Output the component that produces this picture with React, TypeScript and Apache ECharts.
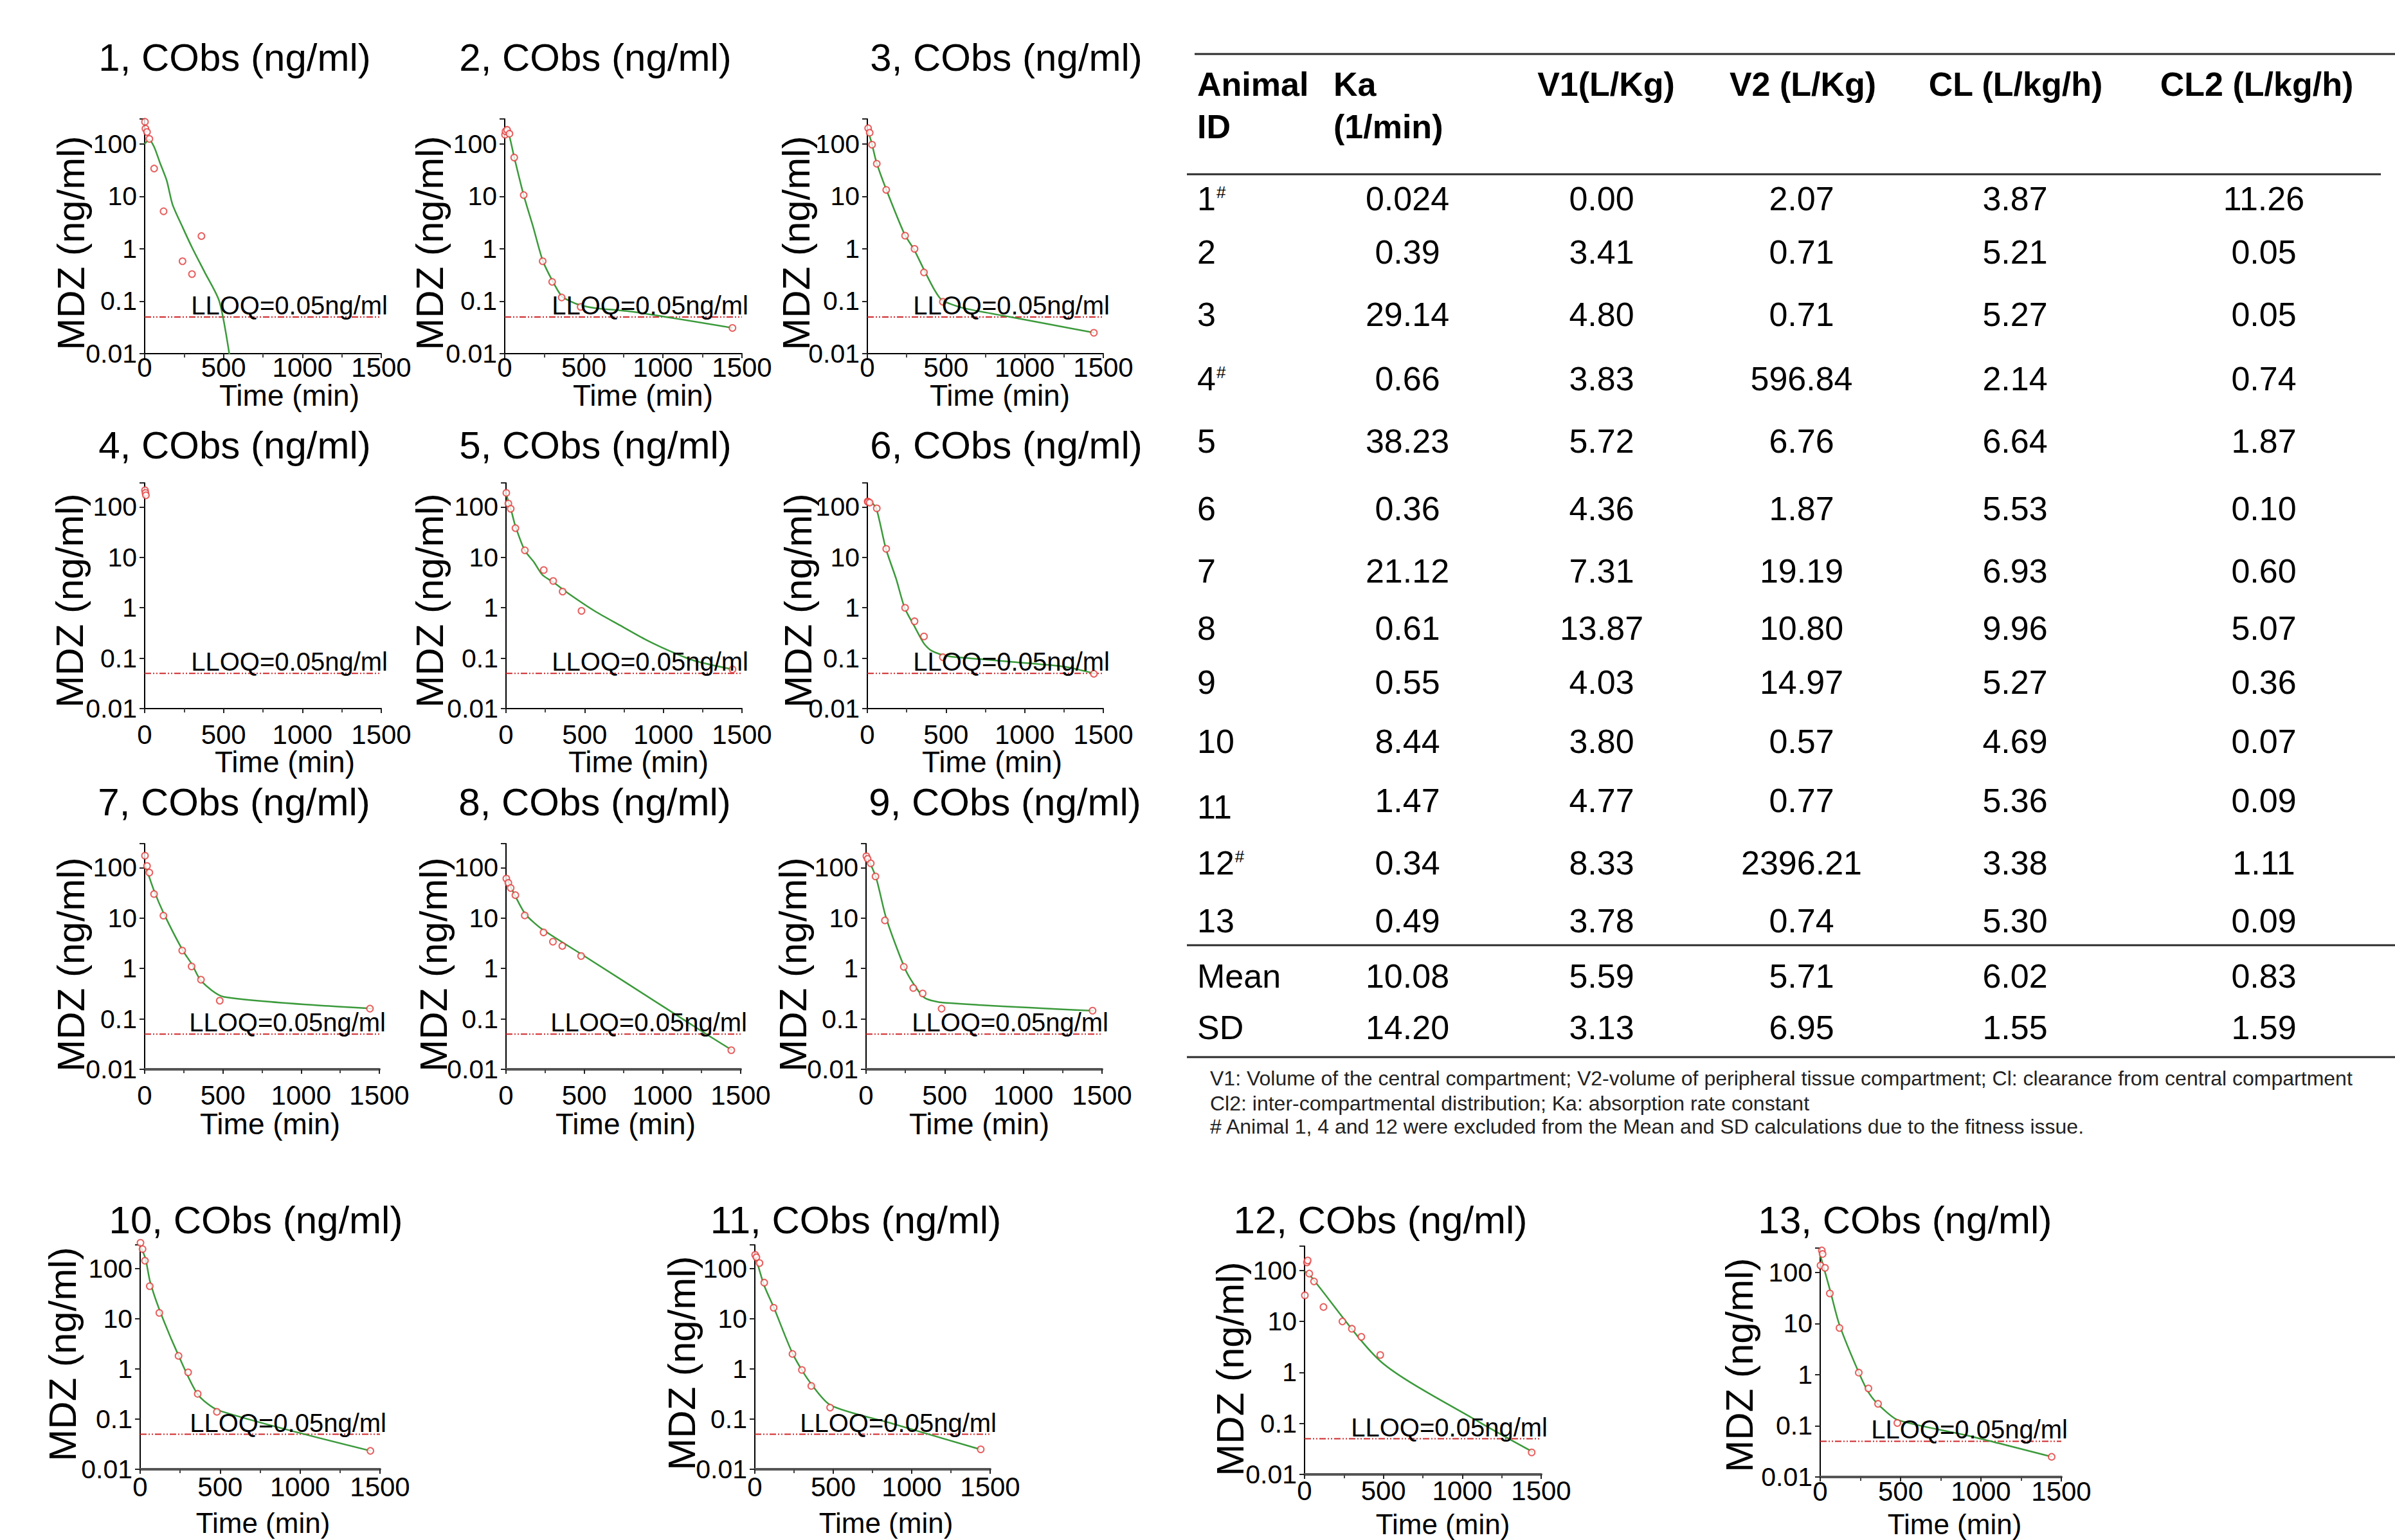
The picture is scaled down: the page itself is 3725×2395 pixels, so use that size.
import React, { useEffect, useRef } from 'react';
import * as echarts from 'echarts';

const W = 3725;
const H = 2395;
const FONT = '"Liberation Sans", Arial, Helvetica, sans-serif';

// ---------- texts ----------
const PANEL_IDS = ['1', '2', '3', '4', '5', '6', '7', '8', '9', '10', '11', '12', '13'];
const TITLE_SUFFIX = ', CObs (ng/ml)';
const Y_NAME = 'MDZ (ng/ml)';
const X_NAME = 'Time (min)';
const LLOQ_VALUE = 0.05;
const LLOQ_TEXT = 'LLOQ=0.05ng/ml';
const X_MIN = 0;
const X_MAX = 1500;
const X_INTERVAL = 500;
const Y_MIN = 0.01;
const Y_MAX = 300;
const Y_TICK_LABELS = ['0.01', '0.1', '1', '10', '100'];

// ---------- observed (red circles) and fitted (green) data: [time (min), MDZ (ng/ml)] ----------
const obs1 = [[2, 265], [5, 196], [15, 169], [30, 125], [60, 34], [120, 5.2], [240, 0.58], [300, 0.33], [360, 1.75]];
const fit1 = [[0, 100], [28, 121], [60, 88], [98, 43], [140, 20], [176, 7.1], [240, 2.6], [301, 1.05], [380, 0.36], [473, 0.1], [540, 0.0085]];

const obs2 = [[2, 150], [5, 175], [15, 186], [30, 157], [60, 55], [120, 10.6], [240, 0.58], [300, 0.234], [360, 0.118], [480, 0.078], [1440, 0.031]];
const fit2 = [[0, 175], [15, 178], [30, 140], [60, 56], [120, 10.5], [180, 2.6], [240, 0.6], [300, 0.25], [360, 0.125], [417, 0.099], [484, 0.083], [573, 0.074], [807, 0.063], [1440, 0.031]];

const obs3 = [[5, 200], [15, 164], [30, 97], [60, 42], [120, 13.3], [240, 1.78], [300, 1.0], [360, 0.355], [480, 0.098], [1440, 0.025]];
const fit3 = [[2, 188], [27, 106], [58, 44.7], [118, 14.1], [237, 1.88], [297, 0.97], [360, 0.4], [425, 0.168], [473, 0.106], [603, 0.075], [910, 0.05], [1443, 0.025]];

const obs4 = [[2, 215], [5, 190], [8, 170]];
const fit4: number[][] = [];

const obs5 = [[2, 190], [15, 117], [30, 92], [60, 38], [120, 13.8], [240, 5.6], [300, 3.4], [360, 2.1], [480, 0.87], [1440, 0.06]];
const fit5 = [[2, 180], [16, 124], [33, 85], [59, 42.5], [119, 13.8], [177, 8.1], [231, 4.5], [301, 3.2], [410, 1.8], [567, 0.85], [724, 0.45], [881, 0.24], [1038, 0.14], [1194, 0.09], [1440, 0.06]];

const obs6 = [[2, 129], [5, 125], [15, 122], [60, 94], [120, 14.8], [240, 1.0], [300, 0.54], [360, 0.27], [480, 0.105], [1440, 0.049]];
const fit6 = [[2, 143], [21, 129], [57, 94], [118, 14.8], [183, 3.75], [237, 1.0], [299, 0.43], [360, 0.195], [409, 0.14], [506, 0.11], [764, 0.093], [926, 0.084], [1249, 0.068], [1440, 0.05]];

const obs7 = [[2, 173], [15, 108], [30, 80], [60, 30], [120, 11.2], [240, 2.27], [300, 1.1], [360, 0.6], [480, 0.23], [1440, 0.16]];
const fit7 = [[2, 118], [60, 35], [124, 12], [243, 2.3], [303, 1.2], [362, 0.56], [505, 0.275], [1454, 0.16]];

const obs8 = [[2, 61], [15, 50], [30, 39.5], [60, 28.5], [120, 11.3], [240, 5.2], [300, 3.4], [360, 2.8], [480, 1.77], [1440, 0.024]];
const fit8 = [[5, 61], [60, 27], [124, 12], [225, 6.2], [500, 1.77], [1000, 0.18], [1298, 0.046], [1445, 0.024]];

const obs9 = [[2, 169], [10, 150], [30, 122], [60, 67], [120, 9.0], [240, 1.08], [300, 0.41], [360, 0.32], [480, 0.16], [1440, 0.146]];
const fit9 = [[9, 160], [64, 63], [128, 10], [247, 1.0], [315, 0.43], [374, 0.26], [489, 0.21], [1447, 0.145]];

const obs10 = [[2, 330], [15, 247], [30, 145], [60, 45], [120, 13.2], [240, 1.83], [300, 0.86], [360, 0.32], [480, 0.14], [1440, 0.0233]];
const fit10 = [[0, 290], [33, 161], [62, 55.6], [125, 14], [241, 1.83], [361, 0.31], [490, 0.15], [1442, 0.0233]];

const obs11 = [[2, 190], [10, 170], [30, 130], [60, 53], [120, 16.7], [240, 2.0], [300, 0.96], [360, 0.46], [480, 0.17], [1440, 0.025]];
const fit11 = [[4, 180], [59, 47], [123, 16.3], [242, 2.0], [347, 0.57], [483, 0.19], [856, 0.085], [1436, 0.025]];

const obs12 = [[2, 32.6], [15, 144], [20, 157], [30, 87], [60, 61], [120, 19.2], [240, 10], [300, 7.2], [360, 5.0], [480, 2.2], [1440, 0.027]];
const fit12 = [[0, 95], [27, 85.5], [487, 1.6], [1099, 0.11], [1449, 0.0273]];

const obs13 = [[2, 137], [10, 270], [15, 230], [30, 123], [60, 39], [120, 8.2], [240, 1.1], [300, 0.54], [360, 0.27], [480, 0.114], [1440, 0.0248]];
const fit13 = [[0, 219], [61, 45.6], [119, 9.6], [242, 1.07], [307, 0.42], [376, 0.236], [483, 0.13], [932, 0.063], [1442, 0.0248]];

const OBS = [obs1, obs2, obs3, obs4, obs5, obs6, obs7, obs8, obs9, obs10, obs11, obs12, obs13];
const FIT = [fit1, fit2, fit3, fit4, fit5, fit6, fit7, fit8, fit9, fit10, fit11, fit12, fit13];

// ---------- table ----------
const HEAD_1 = ['Animal', 'Ka', 'V1(L/Kg)', 'V2 (L/Kg)', 'CL (L/kg/h)', 'CL2 (L/kg/h)'];
const HEAD_2 = ['ID', '(1/min)'];
const ANIMAL_IDS = ['1', '2', '3', '4', '5', '6', '7', '8', '9', '10', '11', '12', '13'];
const EXCLUDED_IDS = ['1', '4', '12'];
const KA = ['0.024', '0.39', '29.14', '0.66', '38.23', '0.36', '21.12', '0.61', '0.55', '8.44', '1.47', '0.34', '0.49'];
const V1 = ['0.00', '3.41', '4.80', '3.83', '5.72', '4.36', '7.31', '13.87', '4.03', '3.80', '4.77', '8.33', '3.78'];
const V2 = ['2.07', '0.71', '0.71', '596.84', '6.76', '1.87', '19.19', '10.80', '14.97', '0.57', '0.77', '2396.21', '0.74'];
const CL = ['3.87', '5.21', '5.27', '2.14', '6.64', '5.53', '6.93', '9.96', '5.27', '4.69', '5.36', '3.38', '5.30'];
const CL2 = ['11.26', '0.05', '0.05', '0.74', '1.87', '0.10', '0.60', '5.07', '0.36', '0.07', '0.09', '1.11', '0.09'];
const MEAN_LABEL = 'Mean';
const SD_LABEL = 'SD';
const MEAN = ['10.08', '5.59', '5.71', '6.02', '0.83'];
const SD = ['14.20', '3.13', '6.95', '1.55', '1.59'];
const FOOTNOTES = [
  'V1: Volume of the central compartment; V2-volume of peripheral tissue compartment; Cl: clearance from central compartment',
  'Cl2: inter-compartmental distribution; Ka: absorption rate constant',
  '# Animal 1, 4 and 12 were excluded from the Mean and SD calculations due to the fitness issue.',
];

// ---------- layout (pixel positions only) ----------
const LAYOUT = [
  { l: 225, r: 593, t: 185, b: 550, title: [365, 89], yName: [110, 378], xName: [450, 615], xm: 0 },
  { l: 785, r: 1154, t: 185, b: 550, title: [926, 89], yName: [668, 378], xName: [1000, 615], xm: 0 },
  { l: 1349, r: 1716, t: 185, b: 550, title: [1565, 89], yName: [1238, 378], xName: [1555, 615], xm: 0 },
  { l: 225, r: 593, t: 751, b: 1102, title: [365, 692], yName: [108, 934], xName: [443, 1185], xm: 19 },
  { l: 787, r: 1154, t: 751, b: 1102, title: [926, 692], yName: [668, 934], xName: [993, 1185], xm: 19 },
  { l: 1349, r: 1716, t: 751, b: 1102, title: [1565, 692], yName: [1241, 934], xName: [1543, 1185], xm: 19 },
  { l: 225, r: 590, t: 1312, b: 1663, title: [364, 1247], yName: [110, 1500], xName: [420, 1748], xm: 19 },
  { l: 787, r: 1152, t: 1312, b: 1663, title: [925, 1247], yName: [674, 1500], xName: [973, 1748], xm: 19 },
  { l: 1347, r: 1714, t: 1312, b: 1663, title: [1563, 1247], yName: [1233, 1500], xName: [1523, 1748], xm: 19 },
  { l: 218, r: 591, t: 1936, b: 2285, title: [398, 1897], yName: [97, 2106], xName: [409, 2368], xm: 6 },
  { l: 1174, r: 1540, t: 1936, b: 2285, title: [1331, 1897], yName: [1060, 2120], xName: [1378, 2368], xm: 6 },
  { l: 2029, r: 2397, t: 1938, b: 2293, title: [2147, 1897], yName: [1913, 2129], xName: [2244, 2370], xm: 4 },
  { l: 2831, r: 3206, t: 1941, b: 2297, title: [2963, 1897], yName: [2705, 2123], xName: [3040, 2370], xm: 1 },
];

const TABLE_POS = {
  idLeft: 1862,
  kaHeadLeft: 2074,
  headCenters: [2498, 2804, 3135, 3510],
  colCenters: [2189, 2491, 2802, 3134, 3521],
  head1Y: 131,
  head2Y: 197,
  rowY: [309, 392, 489, 589, 686, 791, 888, 977, 1061, 1153, 1245, 1342, 1432],
  meanY: 1518,
  sdY: 1598,
  rules: [
    [1858, 84, 3725],
    [1846, 271, 3703],
    [1846, 1470, 3725],
    [1846, 1644, 3725],
  ],
  footX: 1882,
  footY: [1677, 1716, 1752],
};

const GREEN = '#3b9a3b';
const RED = '#e23a3a';
const LLOQ_RED = '#d0282b';

function yLabel(v: number) {
  const lg = Math.log10(v);
  const e = Math.round(lg);
  if (Math.abs(lg - e) > 1e-6 || e < -2 || e > 2) return '';
  return Y_TICK_LABELS[e + 2];
}

function xLabel(v: number) {
  return String(Math.round(v));
}

function buildOption() {
  const grid: any[] = [];
  const xAxis: any[] = [];
  const yAxis: any[] = [];
  const series: any[] = [];
  LAYOUT.forEach((p, i) => {
    grid.push({ left: p.l, top: p.t, width: p.r - p.l, height: p.b - p.t, containLabel: false });
    const thick = i >= 6;
    xAxis.push({
      gridIndex: i,
      type: 'value',
      min: X_MIN,
      max: X_MAX,
      interval: X_INTERVAL,
      axisLine: { show: true, onZero: false, lineStyle: { color: thick ? '#555' : '#000', width: thick ? 4 : 2 } },
      axisTick: { show: true, length: 7, lineStyle: { color: '#222', width: 2 } },
      minorTick: { show: true, splitNumber: 2, length: 6, lineStyle: { color: '#444', width: 2 } },
      splitLine: { show: false },
      minorSplitLine: { show: false },
      axisLabel: { fontSize: 42, color: '#000', fontFamily: FONT, margin: p.xm, showMinLabel: true, showMaxLabel: true, formatter: xLabel },
    });
    yAxis.push({
      gridIndex: i,
      type: 'log',
      logBase: 10,
      min: Y_MIN,
      max: Y_MAX,
      axisLine: { show: true, lineStyle: { color: '#000', width: 2 } },
      axisTick: { show: true, length: 8, lineStyle: { color: '#222', width: 2 } },
      splitLine: { show: false },
      axisLabel: { fontSize: 41, color: '#000', fontFamily: FONT, margin: 12, formatter: yLabel },
    });
    series.push({
      type: 'line',
      xAxisIndex: i,
      yAxisIndex: i,
      data: [[X_MIN, LLOQ_VALUE], [X_MAX, LLOQ_VALUE]],
      symbol: 'none',
      silent: true,
      lineStyle: { color: LLOQ_RED, width: 2, type: [10, 3, 2, 3, 2, 3] },
      z: 1,
    });
    if (FIT[i].length) {
      series.push({
        type: 'line',
        xAxisIndex: i,
        yAxisIndex: i,
        data: FIT[i],
        symbol: 'none',
        smooth: 0.25,
        clip: true,
        lineStyle: { color: GREEN, width: 2.5 },
        z: 2,
      });
    }
    series.push({
      type: 'scatter',
      xAxisIndex: i,
      yAxisIndex: i,
      data: OBS[i],
      symbol: 'emptyCircle',
      symbolSize: 10,
      clip: false,
      itemStyle: { color: RED, borderColor: RED, borderWidth: 2 },
      z: 3,
    });
  });
  return {
    animation: false,
    backgroundColor: '#ffffff',
    textStyle: { fontFamily: FONT },
    grid,
    xAxis,
    yAxis,
    series,
  };
}

function text(x: number, y: number, t: string, size: number, o: any = {}) {
  return {
    type: 'text',
    x,
    y,
    rotation: o.rot || 0,
    silent: true,
    z: 10,
    style: {
      text: t,
      fontSize: size,
      fontFamily: FONT,
      fontWeight: o.weight || 'normal',
      fill: o.fill || '#000',
      align: o.align || 'center',
      verticalAlign: o.va || 'middle',
    },
  };
}

function buildGraphics(chart: any) {
  const g: any[] = [];
  LAYOUT.forEach((p, i) => {
    g.push(text(p.title[0], p.title[1], PANEL_IDS[i] + TITLE_SUFFIX, 60));
    g.push(text(p.yName[0], p.yName[1], Y_NAME, 60, { rot: Math.PI / 2 }));
    g.push(text(p.xName[0], p.xName[1], X_NAME, i >= 9 ? 44 : 46));
    const px = chart.convertToPixel({ xAxisIndex: i, yAxisIndex: i }, [X_MAX, LLOQ_VALUE]);
    g.push(text(px[0] + 10, px[1] + 2, LLOQ_TEXT, 40, { align: 'right', va: 'bottom' }));
  });

  // table rules
  TABLE_POS.rules.forEach(([x1, y, x2]) => {
    g.push({ type: 'rect', silent: true, shape: { x: x1, y: y - 1.5, width: x2 - x1, height: 3 }, style: { fill: '#2b2b2b' } });
  });
  // header
  g.push(text(TABLE_POS.idLeft, TABLE_POS.head1Y, HEAD_1[0], 52, { align: 'left', weight: 'bold' }));
  g.push(text(TABLE_POS.kaHeadLeft, TABLE_POS.head1Y, HEAD_1[1], 52, { align: 'left', weight: 'bold' }));
  for (let c = 0; c < 4; c++) {
    g.push(text(TABLE_POS.headCenters[c], TABLE_POS.head1Y, HEAD_1[c + 2], 52, { weight: 'bold' }));
  }
  g.push(text(TABLE_POS.idLeft, TABLE_POS.head2Y, HEAD_2[0], 52, { align: 'left', weight: 'bold' }));
  g.push(text(TABLE_POS.kaHeadLeft, TABLE_POS.head2Y, HEAD_2[1], 52, { align: 'left', weight: 'bold' }));
  // body
  const cols = [KA, V1, V2, CL, CL2];
  ANIMAL_IDS.forEach((id, r) => {
    const y = TABLE_POS.rowY[r];
    g.push(text(TABLE_POS.idLeft, id === '11' ? y + 10 : y, id, 52, { align: 'left' }));
    if (EXCLUDED_IDS.indexOf(id) >= 0) {
      g.push(text(TABLE_POS.idLeft + id.length * 0.556 * 52 + 1, y - 23, '#', 26, { align: 'left', va: 'top' }));
    }
    cols.forEach((col, c) => {
      g.push(text(TABLE_POS.colCenters[c], y, col[r], 52));
    });
  });
  g.push(text(TABLE_POS.idLeft, TABLE_POS.meanY, MEAN_LABEL, 52, { align: 'left' }));
  g.push(text(TABLE_POS.idLeft, TABLE_POS.sdY, SD_LABEL, 52, { align: 'left' }));
  MEAN.forEach((v, c) => g.push(text(TABLE_POS.colCenters[c], TABLE_POS.meanY, v, 52)));
  SD.forEach((v, c) => g.push(text(TABLE_POS.colCenters[c], TABLE_POS.sdY, v, 52)));
  FOOTNOTES.forEach((f, k) => g.push(text(TABLE_POS.footX, TABLE_POS.footY[k], f, 32, { align: 'left', fill: '#222' })));
  return g;
}

export default function App() {
  const ref = useRef<HTMLDivElement>(null);
  useEffect(() => {
    document.body.style.margin = '0';
    const el = ref.current;
    if (!el) return;
    const chart = echarts.init(el, null, { renderer: 'svg', width: W, height: H });
    chart.setOption(buildOption());
    chart.setOption({ graphic: buildGraphics(chart) });
    return () => chart.dispose();
  }, []);
  return (
    <div
      ref={ref}
      style={{ position: 'absolute', left: 0, top: 0, width: W, height: H, background: '#fff' }}
    />
  );
}
